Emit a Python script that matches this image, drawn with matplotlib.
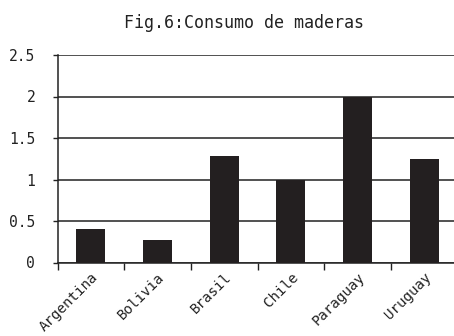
import matplotlib
matplotlib.use("Agg")
import matplotlib.pyplot as plt
import numpy as np

countries = ["Argentina", "Bolivia", "Brasil", "Chile", "Paraguay", "Uruguay"]
consumo = [0.40, 0.27, 1.28, 1.00, 2.00, 1.25]
y_ticks = [0, 0.5, 1, 1.5, 2, 2.5]
y_tick_labels = ["0", "0.5", "1", "1.5", "2", "2.5"]
title = "Fig.6:Consumo de maderas"

plt.rcParams["font.family"] = ["DejaVu Sans Mono"]
ink = "#222222"
bar_color = "#231f20"

fig = plt.figure(figsize=(4.54, 3.36), dpi=100)
ax = fig.add_axes([57.5 / 454, 73.5 / 336, 400 / 454, 207.5 / 336])

x = np.arange(len(countries))
ax.bar(x, consumo, width=0.435, color=bar_color, zorder=3)

ax.set_xlim(-0.5, len(countries) - 0.5)
ax.set_ylim(0, 2.5)

ax.set_yticks(y_ticks)
ax.set_yticklabels(y_tick_labels, fontsize=10.5, color=ink)
ax.yaxis.grid(True, color=ink, linewidth=1.1, zorder=1)
ax.tick_params(axis="y", length=3.6, width=1, color=ink, pad=12.5)

ax.set_xticks(x)
ax.set_xticklabels(countries, rotation=45, ha="right", va="top",
                   rotation_mode="anchor", fontsize=10.2, color=ink)
ax.set_xticks(np.arange(len(countries) + 1) - 0.5, minor=True)
ax.tick_params(axis="x", which="major", length=0, pad=5.5)
ax.tick_params(axis="x", which="minor", length=5, width=1, color=ink)

for side in ["top", "right"]:
    ax.spines[side].set_visible(False)
for side in ["left", "bottom"]:
    ax.spines[side].set_color(ink)
    ax.spines[side].set_linewidth(1.1)

fig.text(243.5 / 454, 1 - 23 / 336, title, ha="center", va="center",
         fontsize=12, color=ink)

fig.savefig("out.png", dpi=100)
